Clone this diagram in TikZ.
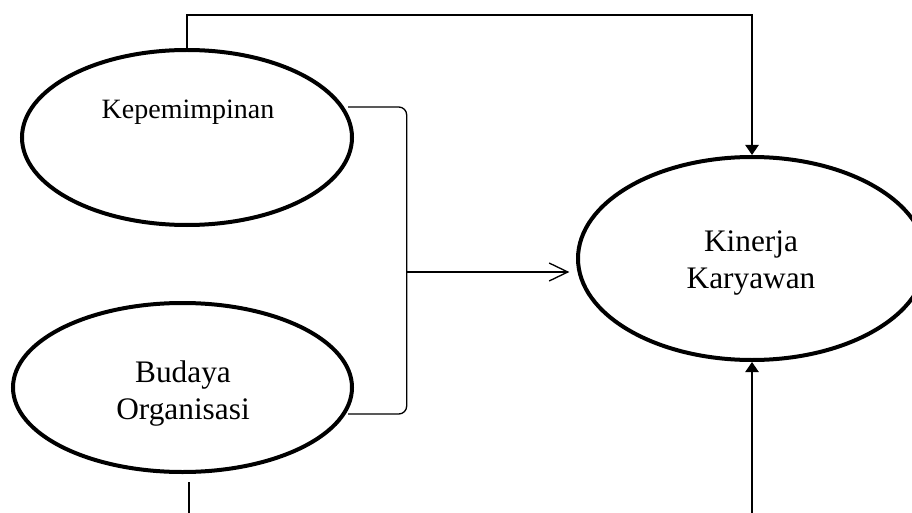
\documentclass[tikz,border=0pt]{standalone}
\usepackage{fontspec}
\setmainfont{Liberation Serif}
\usetikzlibrary{shapes.geometric,arrows.meta}
\begin{document}
\begin{tikzpicture}[x=0.75pt,y=-0.75pt,
  oval/.style={draw,ellipse,line width=3pt,inner sep=0pt},
  lbl/.style={align=center,font=\fontsize{23.5}{27.75}\selectfont,inner sep=0pt},
  conn/.style={line width=1pt},
  solidtip/.style={-{Triangle[length=7.5pt,width=10pt]}},
  opentip/.style={-{Straight Barb[length=14pt,width=13.5pt,line width=1pt]}}]
\useasboundingbox (0,0) rectangle (912,513);
% ellipses
\node[oval,minimum width=247.5pt,minimum height=131.25pt] (kep) at (187,137.5) {};
\node[oval,minimum width=254.25pt,minimum height=126.75pt] (bud) at (182.5,387.5) {};
\node[oval,minimum width=261pt,minimum height=152.25pt] (kin) at (752,258.5) {};
% labels
\node[lbl,font=\fontsize{21}{27}\selectfont,anchor=base] (kepl) at (188,118.5) {Kepemimpinan};
\node[lbl] (budl) at (183,394) {Budaya\\Organisasi};
\node[lbl] (kinl) at (751,263) {Kinerja\\Karyawan};
% helper coordinates
\coordinate (topy) at (0,15);
\coordinate (boty) at (0,513);
\coordinate (brk) at (406.7,272);
\coordinate (bdown) at (189,482);
% top connector
\draw[conn,solidtip] (kep.north) -- (kep.north |- topy) -| (kin.north);
% bracket
\draw[conn,rounded corners=6pt] (348,107) -- (406.7,107) -- (406.7,414) -- (348,414);
% middle arrow
\draw[conn,opentip,shorten >=5pt] (brk) -- (kin.west |- brk);
% bottom lines
\draw[conn] (bdown) -- (bdown |- boty);
\draw[conn,solidtip] (kin.south |- boty) -- (kin.south);
\end{tikzpicture}
\end{document}
